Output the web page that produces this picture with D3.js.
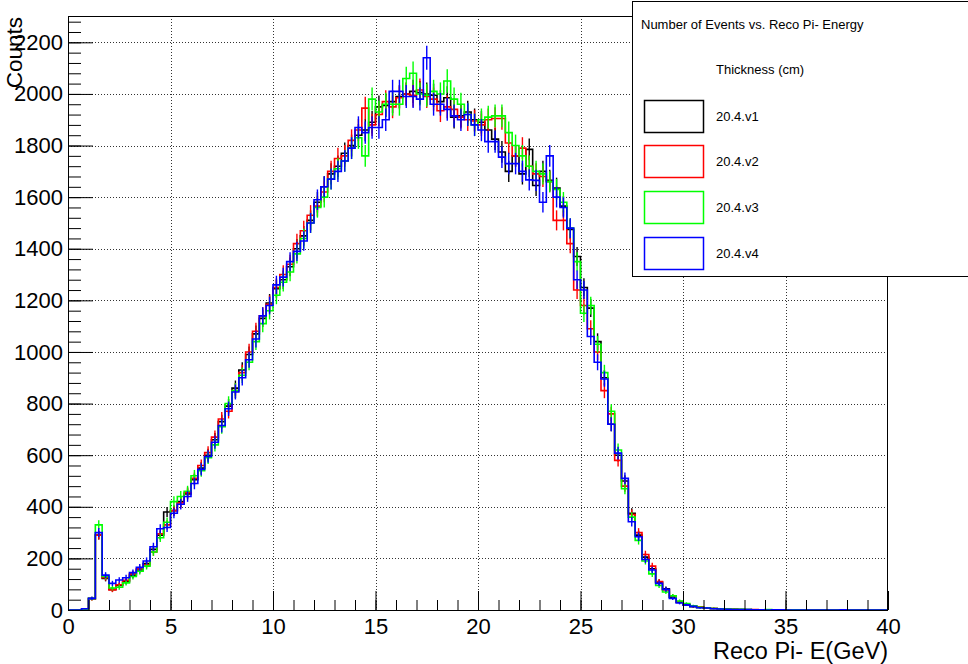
<!DOCTYPE html>
<html>
<head>
<meta charset="utf-8">
<script src="https://cdn.jsdelivr.net/npm/d3@7"></script>
<style>
  html, body { margin: 0; padding: 0; background: #fff; }
  svg { display: block; font-family: "Liberation Sans", Arial, Helvetica, sans-serif; }
</style>
</head>
<body>
<svg id="chart" width="968" height="664"></svg>
<script>
// Histogram binning: 120 bins of 1/3 GeV between 0 and 40 GeV
const nBins = 120;
const xMin = 0, xMax = 40;

const seriesNames = ["20.4.v1", "20.4.v2", "20.4.v3", "20.4.v4"];
const seriesColors = ["#000000", "#ff0000", "#00ff00", "#0000ff"];

// Counts per bin for each thickness version
const countsV1 = [
  0, 0, 5, 45, 290, 122, 80, 95, 110, 135,
  155, 180, 235, 290, 380, 385, 420, 450, 505, 550,
  600, 660, 730, 790, 860, 930, 990, 1070, 1130, 1190,
  1245, 1280, 1330, 1400, 1450, 1510, 1580, 1640, 1690, 1720,
  1770, 1800, 1840, 1860, 1890, 1950, 1955, 1970, 1990, 2000,
  2010, 2005, 2000, 1995, 1970, 1985, 1910, 1915, 1930, 1900,
  1890, 1860, 1825, 1775, 1700, 1760, 1690, 1785, 1645, 1700,
  1665, 1635, 1565, 1475, 1370, 1250, 1170, 1040, 900, 720,
  600, 500, 375, 290, 205, 160, 108, 82, 50, 30,
  20, 13, 10, 7, 6, 5, 4, 3, 2, 2,
  1, 1, 1, 1, 0, 1, 0, 0, 0, 0,
  0, 0, 0, 0, 0, 0, 0, 0, 0, 0
];
const countsV2 = [
  0, 0, 5, 42, 290, 125, 78, 98, 115, 140,
  160, 175, 225, 295, 330, 385, 415, 455, 510, 560,
  610, 670, 740, 770, 850, 920, 1000, 1080, 1140, 1185,
  1250, 1300, 1340, 1420, 1470, 1530, 1565, 1620, 1700, 1750,
  1760, 1820, 1860, 1945, 1880, 1920, 1970, 1950, 1985, 2000,
  1995, 2015, 1990, 1980, 1935, 1950, 1940, 1910, 1900, 1895,
  1880, 1900, 1905, 1905, 1810, 1760, 1790, 1720, 1690, 1680,
  1660, 1510, 1510, 1420, 1240, 1180, 1090, 1000, 850, 760,
  580, 480, 370, 300, 215, 170, 110, 78, 55, 33,
  22, 15, 12, 8, 6, 4, 4, 3, 2, 1,
  2, 1, 1, 0, 1, 0, 0, 0, 0, 0,
  0, 0, 0, 0, 0, 0, 0, 0, 0, 0
];
const countsV3 = [
  0, 0, 4, 44, 330, 130, 85, 88, 105, 130,
  150, 170, 225, 280, 340, 420, 440, 460, 520, 540,
  590, 640, 710, 800, 850, 910, 960, 1040, 1110, 1160,
  1220, 1270, 1310, 1380, 1440, 1500, 1560, 1600, 1670, 1710,
  1740, 1790, 1830, 1760, 1980, 1930, 1960, 1960, 1960, 2060,
  2080, 2000, 1995, 2010, 2000, 2050, 1980, 1960, 1920, 1880,
  1900, 1910, 1915, 1915, 1850, 1800, 1760, 1720, 1700, 1690,
  1660, 1630, 1580, 1480, 1350, 1150, 1180, 1030, 920, 770,
  620, 470, 360, 270, 190, 140, 95, 70, 55, 35,
  25, 16, 10, 9, 6, 5, 4, 3, 3, 2,
  1, 1, 2, 1, 0, 0, 1, 0, 0, 0,
  0, 0, 0, 0, 0, 0, 0, 0, 0, 0
];
const countsV4 = [
  0, 0, 5, 45, 300, 135, 103, 116, 125, 145,
  165, 190, 245, 315, 320, 375, 410, 440, 490, 545,
  595, 650, 715, 780, 845, 900, 970, 1050, 1140, 1180,
  1260, 1290, 1350, 1390, 1430, 1500, 1590, 1640, 1670, 1700,
  1740, 1790, 1870, 1850, 1870, 1870, 1900, 2010, 2010, 1990,
  1990, 1980, 2140, 1960, 1960, 1940, 1915, 1900, 1920, 1880,
  1860, 1815, 1815, 1755, 1730, 1730, 1700, 1667, 1665, 1580,
  1760, 1600, 1560, 1480, 1280, 1240, 1060, 960, 895, 720,
  608, 510, 342, 284, 196, 155, 103, 80, 45, 27,
  20, 14, 9, 8, 5, 4, 3, 2, 2, 2,
  1, 1, 0, 1, 1, 0, 0, 0, 0, 0,
  0, 0, 0, 1, 0, 0, 0, 0, 0, 0
];
const allCounts = [countsV1, countsV2, countsV3, countsV4];

const xTickValues = [0, 5, 10, 15, 20, 25, 30, 35, 40];
const yTickValues = [0, 200, 400, 600, 800, 1000, 1200, 1400, 1600, 1800, 2000, 2200];

const chartTitle = "Number of Events vs. Reco Pi- Energy";
const legendHeader = "Thickness (cm)";
const xTitle = "Reco Pi- E(GeV)";
const yTitle = "Counts";

// Frame geometry
const frame = { left: 68, right: 888, top: 16, bottom: 610 };
const yMax = 2302;

const svg = d3.select("#chart");

const x = d3.scaleLinear().domain([xMin, xMax]).range([frame.left, frame.right]);
const y = d3.scaleLinear().domain([0, yMax]).range([frame.bottom, frame.top]);

const binWidth = (xMax - xMin) / nBins;
const edges = d3.range(nBins + 1).map(i => xMin + i * binWidth);

// Dotted grid at major ticks
const grid = svg.append("g").attr("class", "grid")
  .attr("stroke", "#333").attr("stroke-width", 1).attr("stroke-dasharray", "1,2");
grid.selectAll("line.gx").data(xTickValues.filter(v => v > xMin && v < xMax)).join("line")
  .attr("x1", d => Math.round(x(d)) + 0.5).attr("x2", d => Math.round(x(d)) + 0.5)
  .attr("y1", frame.top).attr("y2", frame.bottom);
grid.selectAll("line.gy").data(yTickValues.filter(v => v > 0)).join("line")
  .attr("y1", d => Math.round(y(d)) + 0.5).attr("y2", d => Math.round(y(d)) + 0.5)
  .attr("x1", frame.left).attr("x2", frame.right);

// Histograms: step outline plus sqrt(N) error bars at bin centres
const stepLine = d3.line()
  .x(d => x(d[0]))
  .y(d => y(d[1]))
  .curve(d3.curveStepAfter);

const plot = svg.append("g").attr("class", "hists");
allCounts.forEach((counts, si) => {
  const pts = counts.map((c, i) => [edges[i], c]);
  pts.push([edges[nBins], counts[nBins - 1]]);
  const g = plot.append("g").attr("stroke", seriesColors[si]).attr("fill", "none");
  g.append("path").attr("d", stepLine(pts)).attr("stroke-width", 1.6);
  g.selectAll("line").data(counts.map((c, i) => ({ c, i })).filter(d => d.c > 0)).join("line")
    .attr("x1", d => x(edges[d.i] + binWidth / 2))
    .attr("x2", d => x(edges[d.i] + binWidth / 2))
    .attr("y1", d => y(d.c + Math.sqrt(d.c)))
    .attr("y2", d => y(Math.max(0, d.c - Math.sqrt(d.c))))
    .attr("stroke-width", 1.4);
});

// Frame
svg.append("rect")
  .attr("x", frame.left + 0.5).attr("y", frame.top + 0.5)
  .attr("width", frame.right - frame.left - 1).attr("height", frame.bottom - frame.top)
  .attr("fill", "none").attr("stroke", "#000").attr("stroke-width", 1);

// Axes with inward ticks (major + minor)
const xAxisG = svg.append("g").attr("transform", `translate(0,${frame.bottom})`);
xAxisG.call(d3.axisBottom(x).tickValues(d3.range(xMin, xMax + 1, 1)).tickSize(-10).tickFormat(""));
xAxisG.call(g => g.selectAll(".domain").remove());
const xMajor = svg.append("g").attr("transform", `translate(0,${frame.bottom})`);
xMajor.call(d3.axisBottom(x).tickValues(xTickValues).tickSize(-19).tickPadding(8).tickFormat(d3.format("d")));
xMajor.call(g => g.selectAll(".domain").remove());
xMajor.selectAll("text").attr("font-size", 22).attr("fill", "#000")
  .attr("font-family", "Liberation Sans, Arial, sans-serif");

const yMinor = svg.append("g").attr("transform", `translate(${frame.left},0)`);
yMinor.call(d3.axisLeft(y).tickValues(d3.range(0, yMax, 40)).tickSize(-13).tickFormat(""));
yMinor.call(g => g.selectAll(".domain").remove());
const yMajor = svg.append("g").attr("transform", `translate(${frame.left},0)`);
yMajor.call(d3.axisLeft(y).tickValues(yTickValues).tickSize(-25).tickPadding(5).tickFormat(d3.format("d")));
yMajor.call(g => g.selectAll(".domain").remove());
yMajor.selectAll("text").attr("font-size", 22).attr("fill", "#000")
  .attr("font-family", "Liberation Sans, Arial, sans-serif")
  .attr("x", -5);
svg.selectAll(".tick line").attr("stroke", "#000");

// Axis titles
svg.append("text")
  .attr("x", frame.right).attr("y", 659)
  .attr("text-anchor", "end").attr("font-size", 23.5).text(xTitle);
svg.append("text")
  .attr("transform", `translate(22,${frame.top + 1}) rotate(-90)`)
  .attr("text-anchor", "end").attr("font-size", 22.5).text(yTitle);

// Legend box
const legend = svg.append("g").attr("class", "legend");
legend.append("rect")
  .attr("x", 632.5).attr("y", 1.5).attr("width", 400).attr("height", 275)
  .attr("fill", "#fff").attr("stroke", "#000").attr("stroke-width", 1);
legend.append("text").attr("x", 641).attr("y", 29).attr("font-size", 13).text(chartTitle);
legend.append("text").attr("x", 716).attr("y", 74).attr("font-size", 13).text(legendHeader);
const entryY = [100.5, 145.5, 191.5, 237.5];
seriesNames.forEach((name, i) => {
  legend.append("rect")
    .attr("x", 644.5).attr("y", entryY[i]).attr("width", 59).attr("height", 32)
    .attr("fill", "none").attr("stroke", seriesColors[i]).attr("stroke-width", 1.5);
  legend.append("text")
    .attr("x", 716).attr("y", entryY[i] + 20.5).attr("font-size", 13).text(name);
});
</script>
</body>
</html>
